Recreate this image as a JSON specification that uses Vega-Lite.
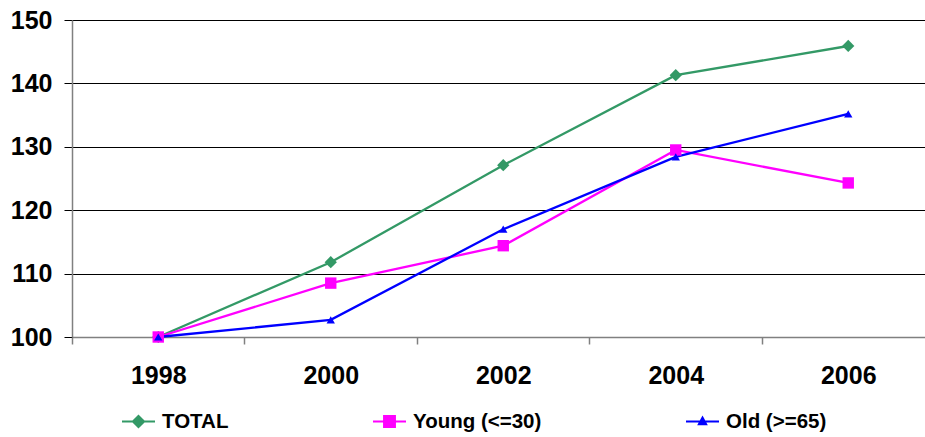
{
  "$schema": "https://vega.github.io/schema/vega-lite/v6.json",
  "autosize": "none",
  "width": 853,
  "height": 317,
  "padding": {"left": 72, "top": 20, "right": 0, "bottom": 100},
  "background": "white",
  "config": {
    "font": "Liberation Sans",
    "view": {"stroke": null}
  },
  "data": {
    "values": [
      {"year": 1998, "series": "TOTAL", "value": 100},
      {"year": 2000, "series": "TOTAL", "value": 111.8},
      {"year": 2002, "series": "TOTAL", "value": 127.1},
      {"year": 2004, "series": "TOTAL", "value": 141.3},
      {"year": 2006, "series": "TOTAL", "value": 145.9},
      {"year": 1998, "series": "Young (<=30)", "value": 100},
      {"year": 2000, "series": "Young (<=30)", "value": 108.5},
      {"year": 2002, "series": "Young (<=30)", "value": 114.4},
      {"year": 2004, "series": "Young (<=30)", "value": 129.5},
      {"year": 2006, "series": "Young (<=30)", "value": 124.3},
      {"year": 1998, "series": "Old (>=65)", "value": 100},
      {"year": 2000, "series": "Old (>=65)", "value": 102.7},
      {"year": 2002, "series": "Old (>=65)", "value": 117.0},
      {"year": 2004, "series": "Old (>=65)", "value": 128.4},
      {"year": 2006, "series": "Old (>=65)", "value": 135.2}
    ]
  },
  "encoding": {
    "x": {
      "field": "year", "type": "quantitative",
      "scale": {"domain": [1997, 2006.89], "nice": false, "zero": false},
      "axis": {
        "title": null,
        "values": [1997, 1998, 1999, 2000, 2001, 2002, 2003, 2004, 2005, 2006],
        "format": "d",
        "labelExpr": "datum.value % 2 === 0 ? datum.label : ''",
        "grid": false,
        "domainColor": "#808080",
        "domainWidth": 1.5,
        "tickColor": {"condition": {"test": "datum.value % 2 === 1", "value": "#808080"}, "value": "transparent"},
        "tickSize": 7,
        "tickWidth": 1.5,
        "labelPadding": 19,
        "labelFontSize": 25,
        "labelFontWeight": "bold",
        "labelColor": "black",
        "labelFlush": false,
        "labelOverlap": false
      }
    },
    "y": {
      "field": "value", "type": "quantitative",
      "scale": {"domain": [100, 150], "nice": false, "zero": false},
      "axis": {
        "title": null,
        "values": [100, 110, 120, 130, 140, 150],
        "grid": true,
        "gridColor": {"condition": {"test": "datum.value === 100", "value": "transparent"}, "value": "black"},
        "gridWidth": 1,
        "domainColor": "#808080",
        "domainWidth": 1.5,
        "tickColor": "black",
        "tickSize": 8,
        "labelPadding": 12,
        "labelFontSize": 25,
        "labelFontWeight": "bold",
        "labelColor": "black"
      }
    }
  },
  "layer": [
    {
      "mark": {"type": "point", "filled": true, "opacity": 1, "strokeWidth": 2, "size": 0},
      "encoding": {
        "fill": {"field": "series", "type": "nominal",
          "scale": {"domain": ["TOTAL", "Young (<=30)", "Old (>=65)"], "range": ["#339966", "#FF00FF", "#0000FF"]},
          "legend": {"title": null, "orient": "none", "legendX": 49, "legendY": 384, "direction": "horizontal", "padding": 0, "columnPadding": 140, "labelOffset": 6, "labelFontSize": 20.5, "labelFontWeight": "bold", "labelColor": "black", "labelLimit": 400, "symbolSize": 1089, "symbolStrokeWidth": 2}},
        "stroke": {"field": "series", "type": "nominal",
          "scale": {"domain": ["TOTAL", "Young (<=30)", "Old (>=65)"], "range": ["#339966", "#FF00FF", "#0000FF"]},
          "legend": {"title": null, "orient": "none", "legendX": 49, "legendY": 384, "direction": "horizontal", "padding": 0, "columnPadding": 140, "labelOffset": 6, "labelFontSize": 20.5, "labelFontWeight": "bold", "labelColor": "black", "labelLimit": 400, "symbolSize": 1089, "symbolStrokeWidth": 2}},
        "shape": {"field": "series", "type": "nominal",
          "scale": {"domain": ["TOTAL", "Young (<=30)", "Old (>=65)"], "range": ["M-1,0L1,0M0,-0.34L0.34,0L0,0.34L-0.34,0Z", "M-1,0L1,0M-0.33,-0.33H0.33V0.33H-0.33Z", "M-1,0L1,0M0,-0.24L0.22,0.16H-0.22Z"]},
          "legend": {"title": null, "orient": "none", "legendX": 49, "legendY": 384, "direction": "horizontal", "padding": 0, "columnPadding": 140, "labelOffset": 6, "labelFontSize": 20.5, "labelFontWeight": "bold", "labelColor": "black", "labelLimit": 400, "symbolSize": 1089, "symbolStrokeWidth": 2}}
      }
    },
    {
      "mark": {"type": "line", "strokeWidth": 2.3},
      "encoding": {
        "color": {"field": "series", "type": "nominal", "legend": null,
          "scale": {"domain": ["TOTAL", "Young (<=30)", "Old (>=65)"], "range": ["#339966", "#FF00FF", "#0000FF"]}},
        "order": {"field": "year"}
      }
    },
    {
      "transform": [{"filter": "datum.series === 'TOTAL'"}],
      "mark": {"type": "point", "filled": true, "opacity": 1, "shape": "diamond", "size": 150},
      "encoding": {
        "color": {"field": "series", "type": "nominal", "legend": null,
          "scale": {"domain": ["TOTAL", "Young (<=30)", "Old (>=65)"], "range": ["#339966", "#FF00FF", "#0000FF"]}}
      }
    },
    {
      "transform": [{"filter": "datum.series === 'Young (<=30)'"}],
      "mark": {"type": "point", "filled": true, "opacity": 1, "shape": "square", "size": 130},
      "encoding": {
        "color": {"field": "series", "type": "nominal", "legend": null,
          "scale": {"domain": ["TOTAL", "Young (<=30)", "Old (>=65)"], "range": ["#339966", "#FF00FF", "#0000FF"]}}
      }
    },
    {
      "transform": [{"filter": "datum.series === 'Old (>=65)'"}],
      "mark": {"type": "point", "filled": true, "opacity": 1, "shape": "triangle-up", "size": 70},
      "encoding": {
        "color": {"field": "series", "type": "nominal", "legend": null,
          "scale": {"domain": ["TOTAL", "Young (<=30)", "Old (>=65)"], "range": ["#339966", "#FF00FF", "#0000FF"]}}
      }
    }
  ]
}
